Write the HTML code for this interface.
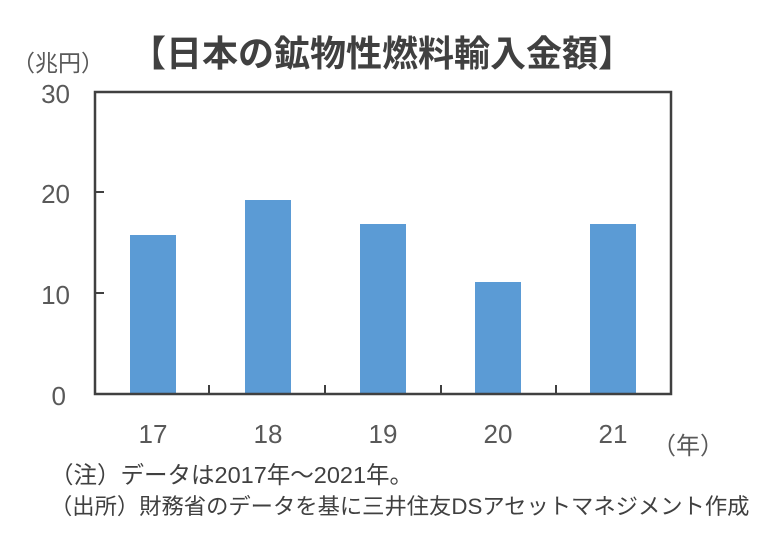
<!DOCTYPE html>
<html><head><meta charset="utf-8"><style>
html,body{margin:0;padding:0;background:#fff;}
body{width:783px;height:546px;position:relative;overflow:hidden;font-family:"Liberation Sans","Noto Sans CJK JP",sans-serif;}
.t{position:absolute;white-space:nowrap;}
</style></head><body>
<div class="t" style="left:130px;top:25px;font-size:36px;font-weight:bold;color:#404040;">【日本の鉱物性燃料輸入金額】</div>
<div class="t" style="left:12px;top:44px;font-size:23px;color:#595959;">（兆円）</div>
<svg width="783" height="546" style="position:absolute;left:0;top:0">
<g fill="#5b9bd5">
<rect x="130" y="235" width="46" height="159"/>
<rect x="245" y="200" width="46" height="194"/>
<rect x="360" y="224" width="46" height="170"/>
<rect x="475" y="282" width="46" height="112"/>
<rect x="590" y="224" width="46" height="170"/>
</g>
<rect x="95" y="92" width="576" height="302" fill="none" stroke="#404040" stroke-width="2.5"/>
<g stroke="#404040" stroke-width="2">
<line x1="95" y1="192" x2="104" y2="192"/>
<line x1="95" y1="293" x2="104" y2="293"/>
<line x1="209" y1="394" x2="209" y2="385"/>
<line x1="325" y1="394" x2="325" y2="385"/>
<line x1="441" y1="394" x2="441" y2="385"/>
<line x1="556" y1="394" x2="556" y2="385"/>
</g>
<g font-family="Liberation Sans, sans-serif" font-size="26" fill="#595959" text-anchor="end">
<text x="70" y="103">30</text>
<text x="70" y="203">20</text>
<text x="70" y="304">10</text>
<text x="66" y="405">0</text>
</g>
<g font-family="Liberation Sans, sans-serif" font-size="26" fill="#595959" text-anchor="middle">
<text x="153" y="443">17</text>
<text x="268" y="443">18</text>
<text x="383" y="443">19</text>
<text x="498" y="443">20</text>
<text x="613" y="443">21</text>
</g>
</svg>
<div class="t" style="left:652px;top:426px;font-size:24px;color:#595959;">（年）</div>
<div class="t" style="left:50px;top:456px;font-size:23.5px;color:#404040;">（注）データは2017年～2021年。</div>
<div class="t" style="left:50px;top:489px;font-size:22.3px;color:#404040;">（出所）財務省のデータを基に三井住友DSアセットマネジメント作成</div>
</body></html>
